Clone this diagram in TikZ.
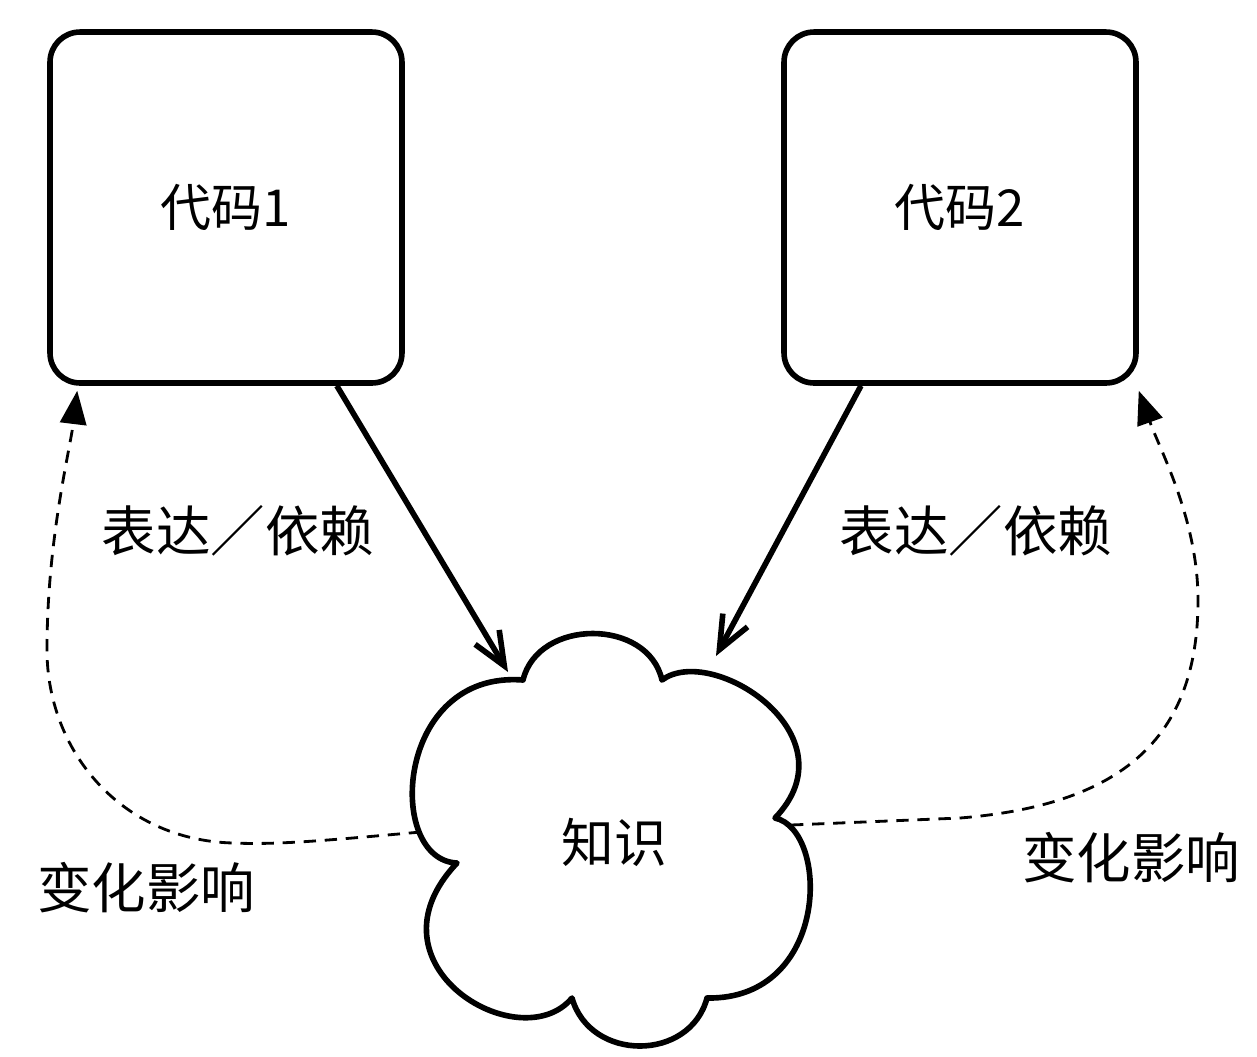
\documentclass[tikz,border=0pt]{standalone}
\usepackage{fontspec}
\setmainfont{Noto Sans CJK SC}
\usetikzlibrary{arrows.meta,calc}
\begin{document}
\begin{tikzpicture}[x=0.02cm,y=-0.02cm,
  box/.style={draw, line width=3.2pt, rounded corners=0.6cm, minimum width=7.04cm, minimum height=7.02cm, inner sep=0pt, font=\fontsize{29}{34}\selectfont},
  lbl/.style={inner sep=0pt, font=\fontsize{31}{36}\selectfont},
  cloudline/.style={line width=3.2pt, line join=round},
  solidarrow/.style={line width=3.2pt, -{Straight Barb[length=19pt,width=16pt]}},
  dasharrow/.style={line width=1.6pt, dash pattern=on 7pt off 5pt, -{Triangle[length=19pt,width=15pt]}},
]
\useasboundingbox (0,0) rectangle (1257,1056);

% boxes
\node[box] (b1) at (226,207.5) {代码1};
\node[box] (b2) at (960,207.5) {代码2};

% cloud
\draw[cloudline] (523,680) .. controls (538,618) and (648,618) .. (662,680)
  .. controls (712,643) and (855,735) .. (775,818)
  .. controls (830,830) and (830,1000) .. (707,998)
  .. controls (690,1062) and (590,1062) .. (572,998)
  .. controls (520,1060) and (360,965) .. (457,863)
  .. controls (385,860) and (395,670) .. (523,680) -- cycle;
\node[inner sep=0pt, font=\fontsize{30}{35}\selectfont] (know) at (614,842) {知识};

% points on the cloud
\coordinate (k1) at (508,672);
\coordinate (k2) at (716,656);
\coordinate (kL) at (421,832);
\coordinate (kR) at (791,825);
\coordinate (bl) at ($(b1.south west)+(30,5)$);
\coordinate (br) at ($(b2.south east)+(0,5)$);

% solid arrows
\draw[solidarrow] ($(b1.south west)!0.81!(b1.south east)$) -- (k1);
\draw[solidarrow] ($(b2.south west)!0.223!(b2.south east)$) -- (k2);

% dashed arrows
\draw[dasharrow] (kL) .. controls (330,840) and (280,845) .. (233,843)
  .. controls (120,840) and (47,750) .. (47,650)
  .. controls (47,540) and (70,450) .. (bl);
\draw[dasharrow] (kR) -- (960,818)
  .. controls (1120,805) and (1198,740) .. (1198,600)
  .. controls (1198,520) and (1160,450) .. (br);

% labels
\node[lbl] (e1) at (238,531) {表达／依赖};
\node[lbl] (e2) at (976,531) {表达／依赖};
\node[lbl] (c1) at (146,888) {变化影响};
\node[lbl] (c2) at (1131,858) {变化影响};
\end{tikzpicture}
\end{document}
